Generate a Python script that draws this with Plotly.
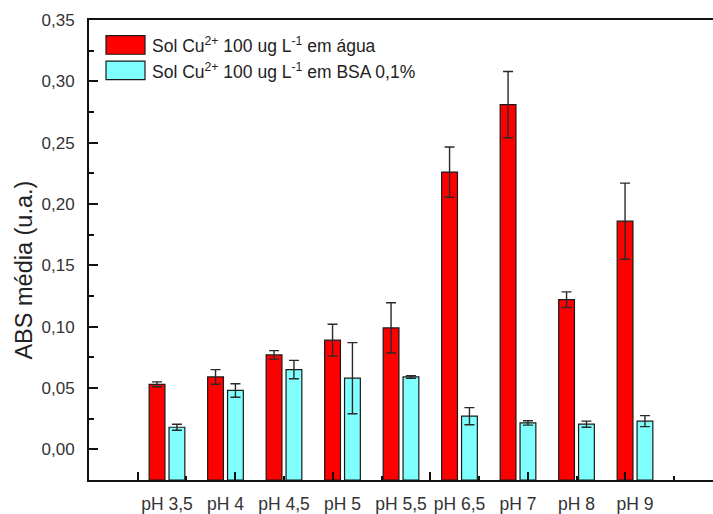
import plotly.graph_objects as go

# ---- data ----
categories = ["pH 3,5", "pH 4", "pH 4,5", "pH 5", "pH 5,5", "pH 6,5", "pH 7", "pH 8", "pH 9"]
agua = [0.053, 0.059, 0.077, 0.089, 0.099, 0.226, 0.281, 0.122, 0.186]
agua_err = [0.002, 0.006, 0.0035, 0.013, 0.0205, 0.0205, 0.027, 0.0064, 0.031]
bsa = [0.018, 0.048, 0.065, 0.058, 0.059, 0.027, 0.0215, 0.0205, 0.023]
bsa_err = [0.0025, 0.0055, 0.0075, 0.029, 0.001, 0.007, 0.0018, 0.0025, 0.0045]
y_ticks = [0.0, 0.05, 0.10, 0.15, 0.20, 0.25, 0.30, 0.35]
legend_labels = ["Sol Cu<sup>2+</sup> 100 ug L<sup>-1</sup> em água",
                 "Sol Cu<sup>2+</sup> 100 ug L<sup>-1</sup> em BSA 0,1%"]
y_title = "ABS média (u.a.)"

# ---- layout constants ----
W, H = 713, 514
ML, MR, MT, MB = 89, 0, 20, 24
Y_MIN, Y_MAX = -0.025, 0.35
X_MIN, X_MAX = -1.333, 9.333
RED, CYAN = "#FF0000", "#80FFFF"
FONT = "Liberation Sans, Arial, sans-serif"

xpos = list(range(len(categories)))

fig = go.Figure()
for vals, errs, color, off in [(agua, agua_err, RED, -0.305), (bsa, bsa_err, CYAN, 0.035)]:
    fig.add_trace(go.Bar(
        x=xpos, y=[v - Y_MIN for v in vals], base=[Y_MIN] * len(vals),
        width=0.27, offset=off,
        marker=dict(color=color, line=dict(color="#1a1a1a", width=1.2)),
        error_y=dict(type="data", array=errs, visible=True, color="#2a2a2a",
                     thickness=1.4, width=5),
        showlegend=False,
    ))

# helper trace for the odd numeric tick marks along the bottom axis
fig.add_trace(go.Scatter(x=[X_MIN, X_MAX], y=[Y_MIN, Y_MIN], xaxis="x2",
                         mode="lines", line=dict(width=0), hoverinfo="skip",
                         showlegend=False))

fig.update_layout(
    width=W, height=H, margin=dict(l=ML, r=MR, t=MT, b=MB),
    paper_bgcolor="white", plot_bgcolor="white",
    barmode="overlay", separators=",.",
    font=dict(family=FONT, size=17, color="#333333"),
    xaxis=dict(range=[X_MIN, X_MAX], tickmode="array", tickvals=xpos, ticktext=categories,
               ticks="", showgrid=False, zeroline=False, showline=True,
               linecolor="#111111", linewidth=1.8, mirror=True,
               tickfont=dict(size=17.5, color="#333333"), ticklabelstandoff=7),
    xaxis2=dict(range=[X_MIN, X_MAX], overlaying="x", anchor="y", side="bottom",
                showticklabels=False, showgrid=False, zeroline=False, showline=False,
                tickmode="linear", tick0=-0.5, dtick=5/3, ticks="inside",
                ticklen=8, tickwidth=1.5, tickcolor="#111111",
                minor=dict(tick0=-0.5 + 5/6, dtick=5/3, ticks="inside", ticklen=4,
                           tickwidth=1.5, tickcolor="#111111")),
    yaxis=dict(range=[Y_MIN, Y_MAX], tickmode="array", tickvals=y_ticks, tickformat=".2f",
               ticks="inside", ticklen=9, tickwidth=1.5, tickcolor="#111111",
               minor=dict(tickmode="linear", tick0=0.025, dtick=0.05, ticks="inside",
                          ticklen=5, tickwidth=1.5, tickcolor="#111111"),
               showgrid=False, zeroline=False, showline=True, linecolor="#111111",
               linewidth=1.8, mirror=False, ticklabelstandoff=9,
               tickfont=dict(size=17, color="#333333")),
)

def px_x(px):
    return (px - ML) / (W - ML - MR)

def px_y(py):
    return (H - MB - py) / (H - MT - MB)

# y-axis title
fig.add_annotation(xref="paper", yref="paper", x=px_x(24), y=px_y(276),
                   xanchor="center", yanchor="middle", textangle=-90, text=y_title,
                   showarrow=False, font=dict(size=23.5, color="#222222", family=FONT))

# manual legend (large swatches as in the reference)
for i, (lab, color) in enumerate(zip(legend_labels, [RED, CYAN])):
    top = 36 + i * 26
    fig.add_shape(type="rect", xref="paper", yref="paper",
                  x0=px_x(106), x1=px_x(145), y0=px_y(top + 19), y1=px_y(top),
                  fillcolor=color, line=dict(color="#1a1a1a", width=1.2))
    fig.add_annotation(xref="paper", yref="paper", x=px_x(150), y=px_y(top + 10),
                       xanchor="left", yanchor="middle", text=lab, showarrow=False,
                       font=dict(size=17.5, color="#222222", family=FONT))

fig.write_html("out.html")
